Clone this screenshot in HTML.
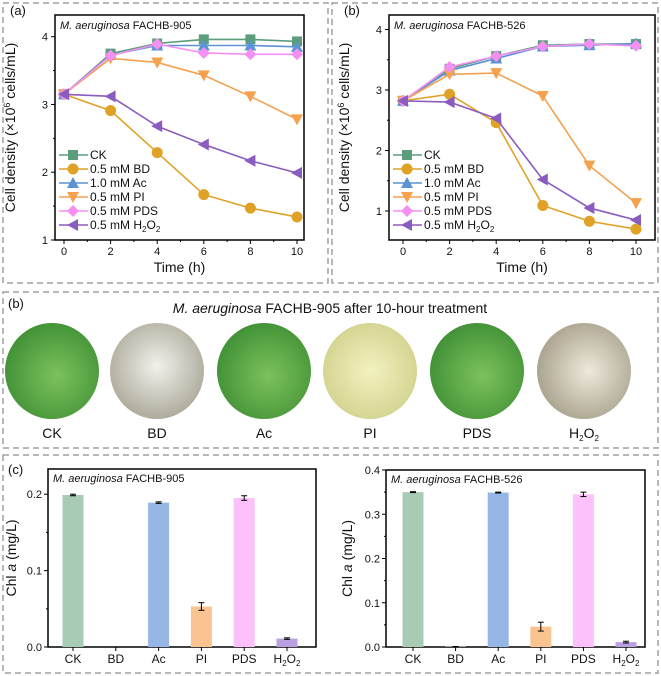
<!DOCTYPE html>
<html><head><meta charset="utf-8">
<style>
body{margin:0;background:#fff;width:661px;height:676px;overflow:hidden;font-family:"Liberation Sans",sans-serif;}
svg{position:absolute;left:0;top:0}
text{font-family:"Liberation Sans",sans-serif;fill:#111}
</style></head><body>
<svg id="fig" width="661" height="676" viewBox="0 0 661 676">
<defs>
<radialGradient id="gG" cx="0.55" cy="0.55" r="0.6"><stop offset="0" stop-color="#7cc25c"/><stop offset="1" stop-color="#3f8f35"/></radialGradient>
<radialGradient id="gW" cx="0.5" cy="0.45" r="0.6"><stop offset="0" stop-color="#f2f0ea"/><stop offset="1" stop-color="#a8a596"/></radialGradient>
<radialGradient id="gY" cx="0.5" cy="0.5" r="0.6"><stop offset="0" stop-color="#f3f2c0"/><stop offset="1" stop-color="#cfcf8a"/></radialGradient>
<radialGradient id="gH" cx="0.55" cy="0.5" r="0.6"><stop offset="0" stop-color="#efe9dc"/><stop offset="1" stop-color="#a49d88"/></radialGradient>
</defs>
</svg>
<script>
const timeCats=[0,2,4,6,8,10];
const seriesNames=['CK','0.5 mM BD','1.0 mM Ac','0.5 mM PI','0.5 mM PDS','0.5 mM H2O2'];
const a_CK=[3.15,3.75,3.90,3.96,3.96,3.93];
const a_BD=[3.15,2.91,2.29,1.67,1.47,1.34];
const a_Ac=[3.15,3.73,3.87,3.87,3.87,3.85];
const a_PI=[3.15,3.68,3.62,3.43,3.12,2.78];
const a_PDS=[3.15,3.72,3.89,3.76,3.74,3.74];
const a_H2O2=[3.15,3.12,2.68,2.41,2.17,1.99];
const b_CK=[2.82,3.35,3.56,3.74,3.76,3.76];
const b_BD=[2.82,2.93,2.46,1.09,0.83,0.70];
const b_Ac=[2.82,3.32,3.52,3.72,3.74,3.77];
const b_PI=[2.82,3.26,3.28,2.90,1.75,1.13];
const b_PDS=[2.82,3.38,3.56,3.72,3.76,3.73];
const b_H2O2=[2.82,2.80,2.53,1.52,1.05,0.85];
const barCats=['CK','BD','Ac','PI','PDS','H2O2'];
const c1_vals=[0.199,0,0.189,0.053,0.195,0.011];
const c1_err=[0.001,0,0.001,0.005,0.003,0.001];
const c2_vals=[0.350,0.001,0.349,0.046,0.345,0.011];
const c2_err=[0.001,0,0.001,0.010,0.005,0.002];
const aTicks=[1,2,3,4];
const bTicks=[1,2,3,4];
const c1Ticks=[0.0,0.1,0.2];
const c2Ticks=[0.0,0.1,0.2,0.3,0.4];

const NS='http://www.w3.org/2000/svg';
const svg=document.getElementById('fig');
function mk(tag,attrs,parent){const e=document.createElementNS(NS,tag);for(const k in attrs)e.setAttribute(k,attrs[k]);(parent||svg).appendChild(e);return e;}
function txt(s,x,y,opt,parent){const t=mk('text',Object.assign({x:x,y:y,'font-size':11},opt||{}),parent);t.innerHTML=s;return t;}
const colors=['#5c9e7c','#e0a226','#5b93d4','#f5a14e','#f58ff2','#8b5cc0'];
const barColors=['#a8cbb5','#cccccc','#96b6e6','#f9c490','#fcc0fb','#b9a0df'];
const h2o2Label='H<tspan font-size="8" dy="3">2</tspan><tspan dy="-3">O</tspan><tspan font-size="8" dy="3">2</tspan>';

[[3,3,325,280],[332,3,326,280],[3,292,655,156],[3,455,655,218]].forEach((p,i)=>{
 const r=mk('rect',{x:p[0],y:p[1],width:p[2],height:p[3],fill:'none',stroke:'#a0a0a0','stroke-width':1.5,'stroke-dasharray':'6,4'});
 
 
});

function marker(g,type,x,y,c){
 let e;
 const s=5;
 if(type===0)e=mk('rect',{x:x-s,y:y-s,width:2*s,height:2*s,fill:c},g);
 else if(type===1)e=mk('circle',{cx:x,cy:y,r:s+0.5,fill:c},g);
 else if(type===2)e=mk('polygon',{points:`${x},${y-s-1} ${x+s+1},${y+s} ${x-s-1},${y+s}`,fill:c},g);
 else if(type===3)e=mk('polygon',{points:`${x},${y+s+1} ${x+s+1},${y-s} ${x-s-1},${y-s}`,fill:c},g);
 else if(type===4)e=mk('polygon',{points:`${x},${y-s-1} ${x+s+1},${y} ${x},${y+s+1} ${x-s-1},${y}`,fill:c},g);
 else e=mk('polygon',{points:`${x-s-1},${y} ${x+s},${y-s-1} ${x+s},${y+s+1}`,fill:c},g);
 
 
}

function lineChart(o){
 const g=mk('g',{});
 
 
 const xs=v=>o.x0+(v-0)*(o.x10-o.x0)/10;
 const ys=v=>o.bot-(v-o.ymin)*(o.bot-o.top)/(o.ymax-o.ymin);
 const fr=mk('rect',{x:o.L,y:o.top,width:o.R-o.L,height:o.bot-o.top,fill:'none',stroke:'#000','stroke-width':1.5},g);
 
 
 o.yt.forEach(v=>{const y=ys(v);mk('line',{x1:o.L-4,x2:o.L,y1:y,y2:y,stroke:'#000'},g);
  const t=txt(String(v),o.L-7,y+4,{'text-anchor':'end','font-size':11},g);
  
  const ym=ys(v+0.5); if(ym>o.top) mk('line',{x1:o.L-2,x2:o.L,y1:ym,y2:ym,stroke:'#000'},g);
 });
 for(let v=0;v<=10;v++){const x=xs(v);mk('line',{x1:x,x2:x,y1:o.bot,y2:o.bot+(v%2?2:4),stroke:'#000'},g);
  if(v%2===0){const t=txt(String(v),x,o.bot+15,{'text-anchor':'middle','font-size':11},g);}}
 const xt=txt('Time (h)',(o.L+o.R)/2,o.bot+32,{'text-anchor':'middle','font-size':14},g);
 
 const cy=(o.top+o.bot)/2;
 const yt=txt('Cell density (×10<tspan font-size="9" dy="-5">6</tspan><tspan dy="5"> cells/mL)</tspan>',0,0,{'text-anchor':'middle','font-size':14,transform:`translate(${o.L-40},${cy}) rotate(-90)`},g);
 
 const tt=txt('<tspan font-style="italic">M. aeruginosa</tspan> FACHB-'+o.strain,o.L+5,o.top+14,{'font-size':11},g);
 
 const pl=txt(o.panel,o.L-45,o.top,{'font-size':13},g);
 
 o.series.forEach((d,i)=>{
  const sg=mk('g',{},g);
  
  
  const pts=d.map((v,j)=>xs(timeCats[j])+','+ys(v)).join(' ');
  mk('polyline',{points:pts,fill:'none',stroke:colors[i],'stroke-width':1.6},sg);
  d.forEach((v,j)=>marker(sg,i,xs(timeCats[j]),ys(v),colors[i]));
 });
 const lg=mk('g',{},g);
 
 
 seriesNames.forEach((n,i)=>{
  const y=o.legY+i*14;
  const eg=mk('g',{},lg);
  
  
  mk('line',{x1:o.L+4,x2:o.L+33,y1:y,y2:y,stroke:colors[i],'stroke-width':1.6},eg);
  marker(eg,i,o.L+18,y,colors[i]);
  const label=i===5?'0.5 mM '+h2o2Label:n;
  txt(label,o.L+35,y+4,{'font-size':12},eg);
 });
}
lineChart({name:'chart-a',L:55,R:304,top:15,bot:240,x0:64,x10:297,ymin:1,ymax:4.32,yt:aTicks,strain:'905',panel:'(a)',legY:155,
 series:[a_CK,a_BD,a_Ac,a_PI,a_PDS,a_H2O2]});
lineChart({name:'chart-b',L:389,R:655,top:15,bot:240,x0:403,x10:636,ymin:0.52,ymax:4.24,yt:bTicks,strain:'526',panel:'(b)',legY:155,
 series:[b_CK,b_BD,b_Ac,b_PI,b_PDS,b_H2O2]});

const mt=txt('<tspan font-style="italic">M. aeruginosa</tspan> FACHB-905 after 10-hour treatment',330,313,{'text-anchor':'middle','font-size':14});

const mp=txt('(b)',8,308,{'font-size':13});

const dishX=[52,157,264,370,477,584];
const dishFill=['url(#gG)','url(#gW)','url(#gG)','url(#gY)','url(#gG)','url(#gH)'];
barCats.forEach((n,i)=>{
 const c=mk('ellipse',{cx:dishX[i],cy:371,rx:47,ry:48,fill:dishFill[i]});
 
 
 const t=txt(n==='H2O2'?h2o2Label:n,dishX[i],438,{'text-anchor':'middle','font-size':14});
 
});

function barChart(o){
 const g=mk('g',{});
 
 
 const ys=v=>o.bot-v*(o.bot-o.top)/o.ymax;
 const xs=i=>o.c0+i*o.step;
 const fr=mk('rect',{x:o.L,y:o.top,width:o.R-o.L,height:o.bot-o.top,fill:'none',stroke:'#000','stroke-width':1.5},g);
 
 o.yt.forEach(v=>{const y=ys(v);mk('line',{x1:o.L-4,x2:o.L,y1:y,y2:y,stroke:'#000'},g);
  const t=txt(v.toFixed(1),o.L-6,y+4,{'text-anchor':'end','font-size':11},g);
  
  const ym=ys(v+0.05);if(ym>o.top+1)mk('line',{x1:o.L-2,x2:o.L,y1:ym,y2:ym,stroke:'#000'},g);});
 o.vals.forEach((v,i)=>{
  const x=xs(i);
  const b=mk('rect',{x:x-10.5,y:ys(v),width:21,height:o.bot-ys(v),fill:barColors[i]},g);
  
  
  const e=o.err[i];
  if(v>0){const y1=ys(v+e),y2=ys(v-e);
   mk('line',{x1:x,x2:x,y1:y1,y2:y2,stroke:'#000'},g);
   mk('line',{x1:x-3,x2:x+3,y1:y1,y2:y1,stroke:'#000'},g);
   mk('line',{x1:x-3,x2:x+3,y1:y2,y2:y2,stroke:'#000'},g);}
  mk('line',{x1:x,x2:x,y1:o.bot,y2:o.bot+4,stroke:'#000'},g);
  const t=txt(barCats[i]==='H2O2'?h2o2Label:barCats[i],x,o.bot+16,{'text-anchor':'middle','font-size':12},g);
  
 });
 const cy=(o.top+o.bot)/2;
 const yt=txt('Chl <tspan font-style="italic">a</tspan> (mg/L)',0,0,{'text-anchor':'middle','font-size':14,transform:`translate(${o.L-o.tOff},${cy}) rotate(-90)`},g);
 
 const tt=txt('<tspan font-style="italic">M. aeruginosa</tspan> FACHB-'+o.strain,o.L+5,o.top+13,{'font-size':11},g);
 
}
barChart({name:'chart-c-905',L:48,R:316,top:469,bot:647,ymax:0.233,yt:c1Ticks,c0:73,step:42.8,vals:c1_vals,err:c1_err,strain:'905',tOff:32});
barChart({name:'chart-c-526',L:386,R:645,top:470,bot:647,ymax:0.4,yt:c2Ticks,c0:413,step:42.6,vals:c2_vals,err:c2_err,strain:'526',tOff:34});
const cp=txt('(c)',8,474,{'font-size':13});

</script>
</body></html>
